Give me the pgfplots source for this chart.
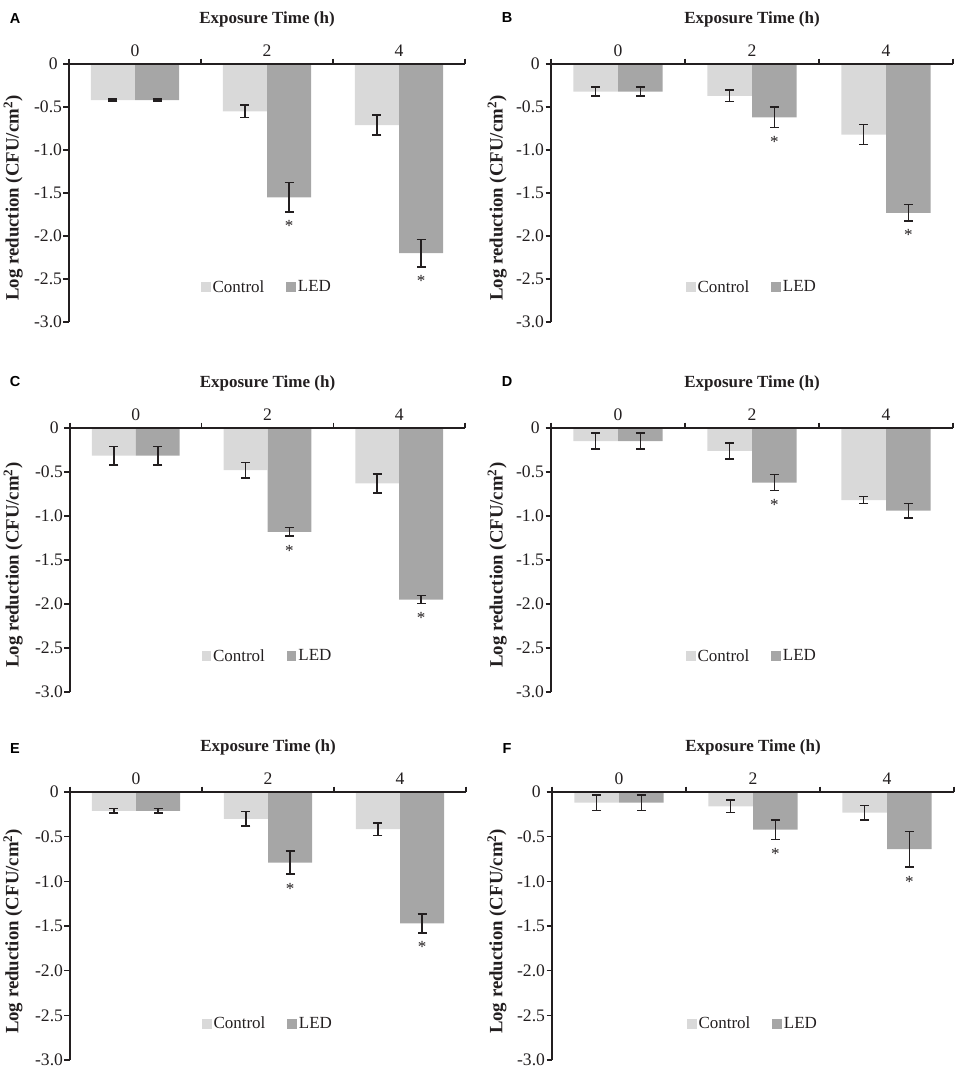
\documentclass[border=0pt]{standalone}
\usepackage{pgfplots}
\pgfplotsset{compat=1.18}
\usepackage{fontspec}
\setmainfont{Liberation Serif}
\newfontfamily\panelfont{Liberation Sans}
\definecolor{ctrl}{HTML}{D9D9D9}
\definecolor{led}{HTML}{A6A6A6}
\definecolor{ink}{HTML}{231F20}
\newcommand\fs{\fontsize{17}{20}\selectfont}
\newcommand\fst{\fontsize{17.6}{20}\selectfont}
\newcommand\fsy{\fontsize{18.8}{22}\selectfont}
\pgfplotsset{
  panel/.style={
    scale only axis, anchor=north west,
    xmin=-0.5, xmax=2.5, ymin=-3, ymax=0,
    axis x line*=top, axis y line*=left,
    axis line style={ink, line width=1.6pt},
    tick style={ink, line width=1.6pt},
    tick align=outside, major tick length=5.5pt,
    xtick={-0.5,0.5,1.5,2.5}, xticklabels={},
    extra x ticks={0,1,2}, extra x tick labels={0,2,4},
    extra x tick style={major tick length=0pt},
    tick label style={font=\fst, text=ink},
    xticklabel style={yshift=4pt},
    yticklabel style={xshift=2pt},
    ytick={-3,-2.5,-2,-1.5,-1,-0.5,0},
    yticklabels={-3.0,-2.5,-2.0,-1.5,-1.0,-0.5,0\phantom{.}},
    xlabel={Exposure Time (h)},
    ylabel={Log reduction (CFU/cm\textsuperscript{2})},
    xlabel style={font=\fs\bfseries, text=ink, at={(axis description cs:0.5,1)}, anchor=center, yshift=45pt},
    axis on top,
    clip=false,
    legend style={at={(0.5,0.136)}, anchor=center, draw=none, fill=none, font=\fs, text=ink,
      legend columns=2, /tikz/every even column/.append style={column sep=20pt}},
    legend image code/.code={\fill[##1] (0pt,-5pt) rectangle (9.5pt,5pt);},
  },
  ylx/.style={ylabel style={font=\fsy\bfseries, text=ink, at={(axis description cs:#1,0.48)}, anchor=center}},
  cbar/.style={ybar, bar width=0.3333, bar shift=0pt, fill=#1, draw=none,
    error bars/.cd, y dir=both, y explicit,
    error bar style={draw=ink, line width=1.6pt},
    error mark options={draw=ink, rotate=90, mark size=4.5pt, line width=1.6pt}},
  star/.style={forget plot, draw=none, mark=none, nodes near coords={*},
    every node near coord/.append style={font=\fs, text=ink, anchor=base, yshift=-20pt}},
}
\begin{document}
\begin{tikzpicture}
\path[use as bounding box] (0pt,0pt) rectangle (957pt,-1069pt);
% ---------- A
\node[font=\panelfont\bfseries\fontsize{14.5}{16}\selectfont, text=black] at (15pt,-19pt) {A};
\begin{axis}[panel, ylx=-0.141, at={(69pt,-64pt)}, width=396pt, height=258pt]
\addplot[cbar=ctrl] coordinates {(-0.1667,-0.42) +- (0,0.01) (0.8333,-0.55) +- (0,0.07) (1.8333,-0.71) +- (0,0.115)};
\addplot[cbar=led] coordinates {(0.1667,-0.42) +- (0,0.01) (1.1667,-1.55) +- (0,0.17) (2.1667,-2.20) +- (0,0.16)};
\addplot[star] coordinates {(1.1667,-1.72) (2.1667,-2.36)};
\legend{Control,LED}
\end{axis}
% ---------- B
\node[font=\panelfont\bfseries\fontsize{14.5}{16}\selectfont, text=black] at (507pt,-18pt) {B};
\begin{axis}[panel, ylx=-0.134, at={(551pt,-64pt)}, width=402pt, height=258pt]
\addplot[cbar=ctrl] coordinates {(-0.1667,-0.32) +- (0,0.055) (0.8333,-0.37) +- (0,0.065) (1.8333,-0.82) +- (0,0.115)};
\addplot[cbar=led] coordinates {(0.1667,-0.32) +- (0,0.055) (1.1667,-0.62) +- (0,0.12) (2.1667,-1.73) +- (0,0.095)};
\addplot[star] coordinates {(1.1667,-0.74) (2.1667,-1.825)};
\legend{Control,LED}
\end{axis}
% ---------- C
\node[font=\panelfont\bfseries\fontsize{14.5}{16}\selectfont, text=black] at (15pt,-382pt) {C};
\begin{axis}[panel, ylx=-0.144, at={(70pt,-428pt)}, width=395pt, height=264pt]
\addplot[cbar=ctrl] coordinates {(-0.1667,-0.315) +- (0,0.105) (0.8333,-0.48) +- (0,0.09) (1.8333,-0.63) +- (0,0.11)};
\addplot[cbar=led] coordinates {(0.1667,-0.315) +- (0,0.105) (1.1667,-1.18) +- (0,0.05) (2.1667,-1.95) +- (0,0.045)};
\addplot[star] coordinates {(1.1667,-1.23) (2.1667,-1.995)};
\legend{Control,LED}
\end{axis}
% ---------- D
\node[font=\panelfont\bfseries\fontsize{14.5}{16}\selectfont, text=black] at (507pt,-382pt) {D};
\begin{axis}[panel, ylx=-0.134, at={(551pt,-428pt)}, width=402pt, height=264pt]
\addplot[cbar=ctrl] coordinates {(-0.1667,-0.15) +- (0,0.09) (0.8333,-0.26) +- (0,0.09) (1.8333,-0.82) +- (0,0.04)};
\addplot[cbar=led] coordinates {(0.1667,-0.15) +- (0,0.09) (1.1667,-0.62) +- (0,0.09) (2.1667,-0.94) +- (0,0.08)};
\addplot[star] coordinates {(1.1667,-0.71)};
\legend{Control,LED}
\end{axis}
% ---------- E
\node[font=\panelfont\bfseries\fontsize{14.5}{16}\selectfont, text=black] at (15pt,-749pt) {E};
\begin{axis}[panel, ylx=-0.144, at={(70pt,-792pt)}, width=396pt, height=268pt]
\addplot[cbar=ctrl] coordinates {(-0.1667,-0.21) +- (0,0.025) (0.8333,-0.30) +- (0,0.08) (1.8333,-0.415) +- (0,0.07)};
\addplot[cbar=led] coordinates {(0.1667,-0.21) +- (0,0.025) (1.1667,-0.79) +- (0,0.13) (2.1667,-1.47) +- (0,0.105)};
\addplot[star] coordinates {(1.1667,-0.92) (2.1667,-1.575)};
\legend{Control,LED}
\end{axis}
% ---------- F
\node[font=\panelfont\bfseries\fontsize{14.5}{16}\selectfont, text=black] at (507pt,-749pt) {F};
\begin{axis}[panel, ylx=-0.137, at={(552pt,-792pt)}, width=402pt, height=268pt]
\addplot[cbar=ctrl] coordinates {(-0.1667,-0.12) +- (0,0.085) (0.8333,-0.16) +- (0,0.07) (1.8333,-0.23) +- (0,0.08)};
\addplot[cbar=led] coordinates {(0.1667,-0.12) +- (0,0.085) (1.1667,-0.42) +- (0,0.11) (2.1667,-0.64) +- (0,0.2)};
\addplot[star] coordinates {(1.1667,-0.53) (2.1667,-0.84)};
\legend{Control,LED}
\end{axis}
\end{tikzpicture}
\end{document}
